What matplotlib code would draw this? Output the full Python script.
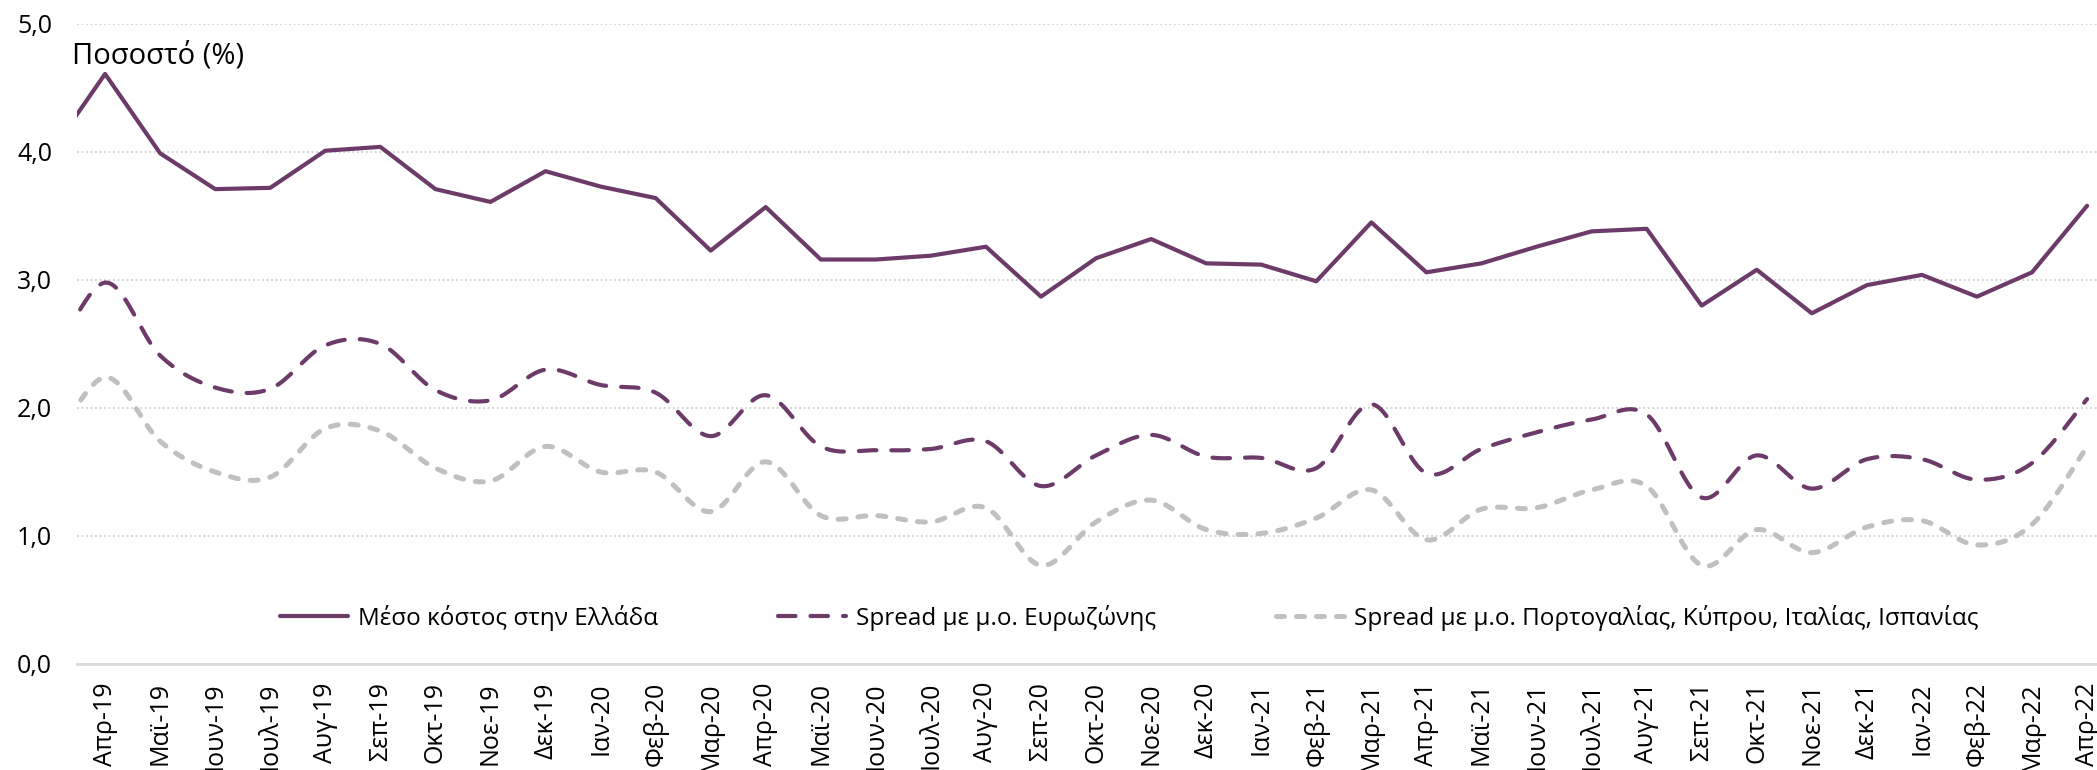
import numpy as np
import matplotlib
matplotlib.use("Agg")
import matplotlib.pyplot as plt

plt.rcParams['font.family'] = ['Open Sans', 'DejaVu Sans']

# months (first one, Μαρ-19, sits half outside the plot area like in the original)
months = ['Μαρ-19', 'Απρ-19', 'Μαϊ-19', 'Ιουν-19', 'Ιουλ-19', 'Αυγ-19', 'Σεπ-19', 'Οκτ-19', 'Νοε-19', 'Δεκ-19',
          'Ιαν-20', 'Φεβ-20', 'Μαρ-20', 'Απρ-20', 'Μαϊ-20', 'Ιουν-20', 'Ιουλ-20', 'Αυγ-20', 'Σεπ-20', 'Οκτ-20',
          'Νοε-20', 'Δεκ-20', 'Ιαν-21', 'Φεβ-21', 'Μαρ-21', 'Απρ-21', 'Μαϊ-21', 'Ιουν-21', 'Ιουλ-21', 'Αυγ-21',
          'Σεπ-21', 'Οκτ-21', 'Νοε-21', 'Δεκ-21', 'Ιαν-22', 'Φεβ-22', 'Μαρ-22', 'Απρ-22']

avg_cost_gr = [3.99, 4.61, 3.99, 3.71, 3.72, 4.01, 4.04, 3.71, 3.61, 3.85,
               3.73, 3.64, 3.23, 3.57, 3.16, 3.16, 3.19, 3.26, 2.87, 3.17,
               3.32, 3.13, 3.12, 2.99, 3.45, 3.06, 3.13, 3.26, 3.38, 3.40,
               2.80, 3.08, 2.74, 2.96, 3.04, 2.87, 3.06, 3.58]

spread_ez = [2.32, 2.98, 2.41, 2.16, 2.15, 2.49, 2.50, 2.14, 2.06, 2.30,
             2.18, 2.12, 1.78, 2.10, 1.70, 1.67, 1.68, 1.74, 1.39, 1.63,
             1.79, 1.62, 1.61, 1.53, 2.03, 1.49, 1.68, 1.81, 1.91, 1.95,
             1.30, 1.63, 1.37, 1.60, 1.60, 1.44, 1.57, 2.07]

spread_south = [1.66, 2.24, 1.74, 1.50, 1.46, 1.84, 1.82, 1.53, 1.43, 1.70,
                1.50, 1.50, 1.19, 1.58, 1.16, 1.16, 1.11, 1.22, 0.77, 1.11,
                1.28, 1.05, 1.02, 1.14, 1.36, 0.97, 1.21, 1.22, 1.36, 1.39,
                0.77, 1.05, 0.87, 1.07, 1.12, 0.93, 1.09, 1.70]

labels = ['Μέσο κόστος στην Ελλάδα',
          'Spread με μ.ο. Ευρωζώνης',
          'Spread με μ.ο. Πορτογαλίας, Κύπρου, Ιταλίας, Ισπανίας']

PURPLE = '#6C3B6A'
GREY = '#C0C0C0'


def smooth(y, n=20):
    # excel-like smoothed line (catmull-rom bezier)
    y = np.asarray(y, dtype=float)
    x = np.arange(len(y), dtype=float)
    p = np.column_stack([x, y])
    pp = np.vstack([p[0], p, p[-1]])
    out = []
    t = np.linspace(0, 1, n)[:, None]
    for i in range(len(p) - 1):
        p0, p3 = pp[i + 1], pp[i + 2]
        c1 = p0 + (pp[i + 2] - pp[i]) / 6
        c2 = p3 - (pp[i + 3] - pp[i + 1]) / 6
        seg = (1 - t) ** 3 * p0 + 3 * (1 - t) ** 2 * t * c1 + 3 * (1 - t) * t ** 2 * c2 + t ** 3 * p3
        out.append(seg if i == 0 else seg[1:])
    out = np.vstack(out)
    return out[:, 0], out[:, 1]


fig = plt.figure(figsize=(20.97, 7.70), dpi=100)
ax = fig.add_axes([77 / 2097, 106 / 770, 2020 / 2097, 640 / 770])

x = np.arange(len(months))
ax.plot(x, avg_cost_gr, color=PURPLE, lw=3.0, solid_capstyle='round', solid_joinstyle='round',
        label=labels[0], zorder=4)
sx, sy = smooth(spread_ez)
ax.plot(sx, sy, color=PURPLE, lw=3.0, dash_capstyle='round', dashes=(4.2, 3.6),
        label=labels[1], zorder=3)
sx, sy = smooth(spread_south)
ax.plot(sx, sy, color=GREY, lw=3.6, dash_capstyle='round', dashes=(1.6, 2.4),
        label=labels[2], zorder=2)

ax.set_xticks(x)
ax.set_xticklabels(months, rotation=90)
ax.set_yticks(np.arange(0, 5.01, 1.0))
ax.set_yticklabels([f'{v:.1f}'.replace('.', ',') for v in np.arange(0, 5.01, 1.0)])
ax.set_xlim(0.49, 37.18)
ax.set_ylim(0, 5)
ax.tick_params(axis='x', length=0, pad=13, labelsize=18)
ax.tick_params(axis='y', length=0, pad=18, labelsize=18)

ax.yaxis.grid(True, color='#D0D0D0', lw=1.3, linestyle=(0, (1, 1.5)))
ax.set_axisbelow(True)
for s in ['top', 'right', 'left']:
    ax.spines[s].set_visible(False)
ax.spines['bottom'].set_color('#D9D9D9')
ax.spines['bottom'].set_linewidth(2)

leg = ax.legend(loc='center', bbox_to_anchor=(0.521, 0.072), ncol=3, frameon=False,
                fontsize=17.5, handlelength=2.8, handletextpad=0.4, columnspacing=4.95)

fig.text(72 / 2097, 1 - 63 / 770, 'Ποσοστό (%)', fontsize=21, va='baseline', ha='left')

fig.savefig('out.png', dpi=100, facecolor='white')
